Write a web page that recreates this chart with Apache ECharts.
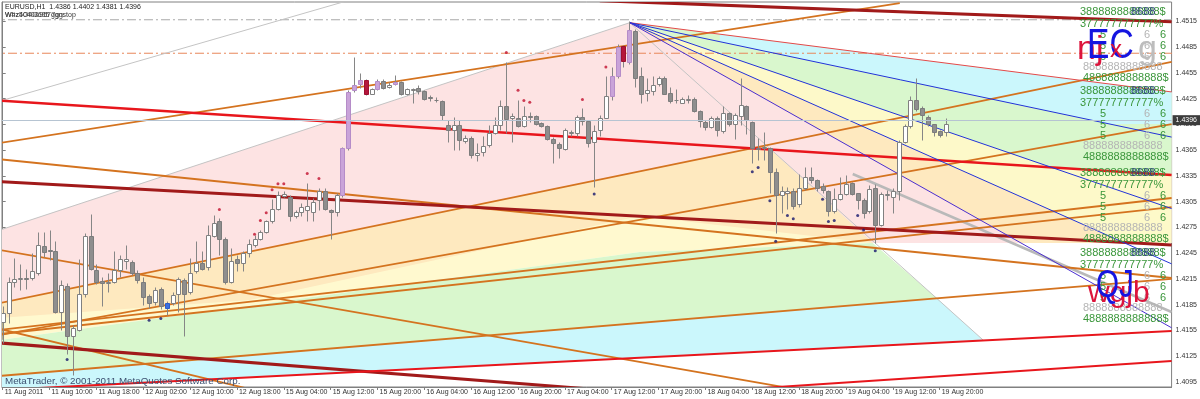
<!DOCTYPE html>
<html><head><meta charset="utf-8">
<script src="https://cdn.jsdelivr.net/npm/echarts@6/dist/echarts.min.js"></script>
<style>html,body{margin:0;padding:0;background:#fff}#c{width:1200px;height:399px}</style>
</head><body><div id="c"></div>
<script>
// ---------- DATA ----------
const timeLabels = ["11 Aug 2011","11 Aug 10:00","11 Aug 18:00","12 Aug 02:00","12 Aug 10:00","12 Aug 18:00",
  "15 Aug 04:00","15 Aug 12:00","15 Aug 20:00","16 Aug 04:00","16 Aug 12:00","16 Aug 20:00",
  "17 Aug 04:00","17 Aug 12:00","17 Aug 20:00","18 Aug 04:00","18 Aug 12:00","18 Aug 20:00",
  "19 Aug 04:00","19 Aug 12:00","19 Aug 20:00"];
const barsPerLabel = 8;
const priceTicks = [1.4095,1.4125,1.4155,1.4185,1.4215,1.4245,1.4275,1.4305,1.4335,1.4365,1.4395,1.4425,1.4455,1.4485,1.4515];

const opens = [
1.4165,1.4175,1.4212,1.4215,1.4216,1.4216,1.4222,1.4253,1.4249,1.4248,
1.4176,1.4207,1.4148,1.4156,1.4198,1.4265,1.4226,1.4213,1.4210,1.4212,
1.4226,1.4236,1.4235,1.4222,1.4212,1.4195,1.4188,1.4203,1.4187,1.4187,
1.4198,1.4214,1.4200,1.4224,1.4234,1.4229,1.4265,1.4282,1.4262,1.4212,
1.4238,1.4234,1.4245,1.4255,1.4262,1.4270,1.4282,1.4297,1.4312,1.4311,
1.4288,1.4293,1.4295,1.4293,1.4307,1.4318,1.4295,1.4293,1.4313,1.4367,
1.4435,1.4442,1.4447,1.4431,1.4436,1.4446,1.4439,1.4442,1.4445,1.4431,
1.4435,1.4438,1.4434,1.4427,1.4424,1.4422,1.4394,1.4388,1.4394,1.4376,
1.4379,1.4359,1.4363,1.4371,1.4385,1.4394,1.4416,1.4402,1.4403,1.4393,
1.4405,1.4405,1.4397,1.4393,1.4378,1.4372,1.4366,1.4385,1.4385,1.4404,
1.4399,1.4375,1.4388,1.4403,1.4428,1.4451,1.4486,1.4468,1.4504,1.4451,
1.4432,1.4434,1.4442,1.4449,1.4432,1.4423,1.4420,1.4424,1.4425,1.4411,
1.4398,1.4392,1.4403,1.4387,1.4408,1.4396,1.4405,1.4417,1.4398,1.4368,
1.4368,1.4367,1.4340,1.4313,1.4315,1.4318,1.4302,1.4321,1.4334,1.4330,
1.4323,1.4318,1.4294,1.4308,1.4314,1.4327,1.4315,1.4307,1.4294,1.4321,
1.4278,1.4313,1.4311,1.4317,1.4374,1.4393,1.4424,1.4414,1.4404,1.4396,
1.4387,1.4386];
const highs = [
1.4183,1.4217,1.4239,1.4233,1.4227,1.4245,1.4270,1.4270,1.4272,1.4259,
1.4214,1.4210,1.4161,1.4238,1.4268,1.4291,1.4232,1.4217,1.4222,1.4247,
1.4243,1.4255,1.4237,1.4226,1.4217,1.4198,1.4206,1.4206,1.4189,1.4200,
1.4217,1.4216,1.4239,1.4259,1.4247,1.4278,1.4290,1.4286,1.4264,1.4251,
1.4243,1.4247,1.4262,1.4266,1.4272,1.4284,1.4308,1.4317,1.4317,1.4313,
1.4295,1.4303,1.4327,1.4309,1.4321,1.4321,1.4297,1.4315,1.4369,1.4435,
1.4474,1.4455,1.4448,1.4437,1.4448,1.4448,1.4445,1.4453,1.4446,1.4437,
1.4437,1.4441,1.4435,1.4429,1.4427,1.4423,1.4400,1.4404,1.4400,1.4383,
1.4381,1.4373,1.4381,1.4394,1.4404,1.4424,1.4468,1.4408,1.4424,1.4416,
1.4410,1.4406,1.4398,1.4394,1.4380,1.4375,1.4391,1.4389,1.4406,1.4414,
1.4400,1.4394,1.4406,1.4451,1.4462,1.4489,1.4488,1.4516,1.4506,1.4462,
1.4449,1.4451,1.4451,1.4451,1.4439,1.4436,1.4427,1.4429,1.4427,1.4412,
1.4400,1.4405,1.4405,1.4416,1.4410,1.4408,1.4449,1.4418,1.4399,1.4379,
1.4386,1.4369,1.4344,1.4323,1.4322,1.4321,1.4337,1.4345,1.4345,1.4331,
1.4327,1.4319,1.4321,1.4334,1.4336,1.4328,1.4315,1.4309,1.4325,1.4326,
1.4316,1.4319,1.4321,1.4377,1.4395,1.4428,1.4449,1.4416,1.4406,1.4396,
1.4389,1.4402];
const lows = [
1.4140,1.4164,1.4206,1.4202,1.4203,1.4214,1.4220,1.4241,1.4237,1.4175,
1.4156,1.4128,1.4103,1.4154,1.4194,1.4226,1.4209,1.4183,1.4200,1.4210,
1.4217,1.4227,1.4220,1.4210,1.4185,1.4181,1.4185,1.4180,1.4173,1.4185,
1.4177,1.4148,1.4198,1.4222,1.4226,1.4226,1.4264,1.4243,1.4209,1.4210,
1.4224,1.4224,1.4240,1.4252,1.4260,1.4268,1.4280,1.4295,1.4311,1.4282,
1.4286,1.4288,1.4282,1.4282,1.4295,1.4295,1.4262,1.4288,1.4311,1.4365,
1.4433,1.4437,1.4429,1.4430,1.4435,1.4436,1.4437,1.4441,1.4429,1.4429,
1.4420,1.4431,1.4424,1.4422,1.4421,1.4400,1.4375,1.4365,1.4365,1.4373,
1.4356,1.4352,1.4358,1.4369,1.4384,1.4389,1.4385,1.4375,1.4392,1.4392,
1.4398,1.4394,1.4392,1.4377,1.4350,1.4356,1.4365,1.4381,1.4382,1.4394,
1.4369,1.4322,1.4381,1.4402,1.4423,1.4449,1.4462,1.4466,1.4439,1.4420,
1.4422,1.4429,1.4440,1.4430,1.4420,1.4420,1.4420,1.4420,1.4410,1.4392,
1.4389,1.4391,1.4381,1.4385,1.4393,1.4378,1.4394,1.4384,1.4350,1.4354,
1.4354,1.4315,1.4269,1.4292,1.4297,1.4296,1.4299,1.4319,1.4327,1.4318,
1.4315,1.4288,1.4292,1.4307,1.4313,1.4313,1.4297,1.4286,1.4292,1.4257,
1.4277,1.4307,1.4292,1.4307,1.4373,1.4391,1.4411,1.4377,1.4393,1.4381,
1.4380,1.4381];
const closes = [
1.4175,1.4212,1.4215,1.4216,1.4215,1.4224,1.4255,1.4246,1.4247,1.4176,
1.4208,1.4148,1.4158,1.4198,1.4265,1.4227,1.4212,1.4210,1.4212,1.4226,
1.4238,1.4238,1.4222,1.4214,1.4194,1.4187,1.4202,1.4183,1.4181,1.4196,
1.4215,1.4198,1.4222,1.4234,1.4227,1.4266,1.4280,1.4261,1.4211,1.4236,
1.4234,1.4245,1.4256,1.4262,1.4270,1.4282,1.4297,1.4313,1.4314,1.4288,
1.4293,1.4299,1.4300,1.4305,1.4318,1.4297,1.4293,1.4313,1.4367,1.4433,
1.4441,1.4447,1.4430,1.4436,1.4446,1.4437,1.4441,1.4445,1.4431,1.4436,
1.4436,1.4434,1.4425,1.4426,1.4423,1.4406,1.4388,1.4394,1.4377,1.4379,
1.4359,1.4362,1.4370,1.4385,1.4394,1.4416,1.4401,1.4405,1.4393,1.4405,
1.4404,1.4396,1.4393,1.4378,1.4373,1.4367,1.4389,1.4386,1.4404,1.4399,
1.4373,1.4387,1.4402,1.4428,1.4451,1.4485,1.4469,1.4505,1.4449,1.4431,
1.4435,1.4441,1.4449,1.4431,1.4422,1.4424,1.4425,1.4425,1.4411,1.4399,
1.4392,1.4403,1.4388,1.4408,1.4396,1.4406,1.4418,1.4400,1.4368,1.4366,
1.4369,1.4340,1.4313,1.4317,1.4317,1.4300,1.4321,1.4334,1.4330,1.4321,
1.4319,1.4294,1.4308,1.4314,1.4326,1.4314,1.4307,1.4292,1.4320,1.4278,
1.4314,1.4314,1.4317,1.4374,1.4393,1.4424,1.4413,1.4406,1.4396,1.4386,
1.4383,1.4396];
const purpleBars = [58,59,60,61,64,67,104,105,107];
const redBars = [62,106];
const blueBars = [28];

const upperDots = [[37,1.4296],[43,1.4267],[44,1.4283],[45,1.4292],[46,1.4319],[47,1.4326],[48,1.4326],
  [52,1.4338],[54,1.4332],[86,1.4479],[88,1.4435],[89,1.4423],[90,1.4421],[99,1.4424],[103,1.4462]];
const lowerDots = [[11,1.4121],[25,1.4167],[27,1.4169],[101,1.4314],[128,1.4340],[129,1.4345],[131,1.4306],
  [132,1.4259],[134,1.4289],[135,1.4285],[140,1.4308],[141,1.4282],[142,1.4283],[146,1.4289],[147,1.4272],[149,1.4248]];

const currentPrice = 1.4396;
const grayLevel = 1.4517;
const orangeLevel = 1.4478;

// trend / channel lines: [[barIndex, price], [barIndex, price]]
const orangeLines = [
  [[-0.46,1.43734],[153.18,1.45365]],
  [[-0.46,1.43544],[199.6,1.42161]],
  [[-0.46,1.41870],[199.6,1.44678]],
  [[-0.46,1.41497],[199.6,1.43955]],
  [[-0.46,1.41556],[199.6,1.43093]],
  [[-0.46,1.41509],[199.6,1.42988]],
  [[-0.46,1.41020],[199.6,1.42150]],
  [[-0.46,1.41567],[45.63,1.40810]],
  [[-0.46,1.42488],[140.03,1.40810]]
];
const maroonLines = [
  [[-0.46,1.43283],[199.6,1.42546]],
  [[-0.46,1.41404],[108.8,1.40822]],
  [[101.96,1.45393],[199.6,1.45147]]
];
const redLines = [
  [[-0.46,1.44227],[199.6,1.43361]],
  [[-0.46,1.40857],[199.6,1.41544]],
  [[101.96,1.40754],[199.6,1.41194]]
];
const fanApex = [107.08,1.45136];
const fanRedEnd = [199.6,1.44329];
const fanBlueEnds = [[199.6,1.43803],[199.6,1.42970],[199.6,1.42326],[199.6,1.41581]];
const grayThinLines = [
  [[-0.46,1.44223],[59.29,1.45400]],
  [[-0.46,1.42720],[107.08,1.45136]],
  [[107.08,1.45136],[167.5,1.41433]]
];
const grayThickLine = [[145.15,1.43373],[199.6,1.41765]];

// filled zones
const pinkZone = [[-0.46,1.42720],[107.08,1.45136],[199.6,1.44329],[199.6,1.42569],[148.57,1.42569],[108.8,1.42884],[42.21,1.41905],[-0.46,1.41695]];
const yellowBand = [[-0.46,1.41870],[130.37,1.43706],[148.57,1.42569],[108.8,1.42464],[-0.46,1.41439]];
const greenBand = [[-0.46,1.41439],[108.8,1.42464],[148.57,1.42569],[159.5,1.41928],[-0.46,1.41020]];
const cyanBand = [[-0.46,1.41020],[159.5,1.41928],[167.5,1.41433],[-0.46,1.40857]];
const fanGreen = [[107.08,1.45136],[199.6,1.44329],[199.6,1.43361],[179.13,1.43449]];
const fanCyan = [[122.45,1.45002],[199.6,1.44329],[199.6,1.43955],[189.03,1.43955],[122.45,1.44914]];
const fanYellow = [[107.08,1.45136],[179.13,1.43449],[199.6,1.43361],[199.6,1.42569],[191.58,1.42569]];
const fanPeach = [[107.08,1.45136],[191.58,1.42569],[173.84,1.42569]];

// texts
const headerText = "EURUSD,H1  1.4386 1.4402 1.4381 1.4396";
const headerText2a = "Whz4040&957ggnstop";
const headerText2b = "W#z5O4O695 7gg";
const copyrightText = "MetaTrader, \u00a9 2001-2011 MetaQuotes Software Corp.";
const levelRowTexts = ["3888888888888$","377777777777%","8888888888888","4888888888888$"];

// ---------- BUILD ----------
const FONT = '"Liberation Sans", Arial, sans-serif';
const candleData = opens.map((o,i)=>{
  let t = closes[i] >= o ? 0 : 1;
  if (purpleBars.includes(i)) t = 2;
  if (redBars.includes(i)) t = 3;
  if (blueBars.includes(i)) t = 4;
  return [i, o, highs[i], lows[i], closes[i], t];
});
const candleStyle = [
  {fill:'#ffffff', stroke:'#808080'},
  {fill:'#8e8e8e', stroke:'#7c7c7c'},
  {fill:'#c9a3d9', stroke:'#b58cc8'},
  {fill:'#b5163c', stroke:'#9c1030'},
  {fill:'#3b6fe0', stroke:'#2d5cc8'}
];

const zones = [
  {pts:pinkZone, fill:'#fde3e3'},
  {pts:yellowBand, fill:'rgba(255,240,140,0.42)'},
  {pts:greenBand, fill:'#d9f7cd'},
  {pts:cyanBand, fill:'#cbf7fc'},
  {pts:fanGreen, fill:'#d9f7cd'},
  {pts:fanCyan, fill:'#cbf7fc'},
  {pts:fanYellow, fill:'#fdf9c9'},
  {pts:fanPeach, fill:'rgba(255,240,140,0.42)'}
];

const lineItems = [];
lineItems.push({pts:[[-2,grayLevel],[205,grayLevel]], c:'#a9a9a9', w:1, d:[9,3,2,3]});
lineItems.push({pts:[[-2,orangeLevel],[205,orangeLevel]], c:'#e8875a', w:1, d:[9,3,2,3]});
grayThinLines.forEach(p=>lineItems.push({pts:p, c:'#c4c4c4', w:1}));
lineItems.push({pts:grayThickLine, c:'#b9b9b9', w:2.5});
orangeLines.forEach(p=>lineItems.push({pts:p, c:'#d4731f', w:1.8}));
maroonLines.forEach(p=>lineItems.push({pts:p, c:'#a11a1a', w:3}));
redLines.forEach((p,k)=>lineItems.push({pts:p, c:'#e8161c', w:k===0?2.5:2}));
lineItems.push({pts:[fanApex,fanRedEnd], c:'#e44a4a', w:1});
fanBlueEnds.forEach((e,k)=>lineItems.push({pts:[fanApex,e], c:k===3?'#4a2ed0':'#2233d8', w:1}));

// graphic texts
const G = [];
const txt = (x,y,text,size,fill,extra)=>Object.assign({type:'text', x, y, z:100,
  style:{text, fill, font: size+'px '+FONT, verticalAlign:'middle'}}, extra||{});
G.push(txt(5,7,headerText,7,'#222'));
G.push(txt(5,15.5,headerText2a,7,'#333'));
G.push(txt(5,15.5,headerText2b,7,'#444'));
G.push(txt(5,381,copyrightText,9.8,'#3d5070'));
const groupTops = [12,91,173,253];
groupTops.forEach(y0=>{
  G.push(txt(1080,y0,levelRowTexts[0],11,'#3a963a'));
  G.push(txt(1131,y0,'8688',11,'#2c447c'));
  G.push(txt(1080,y0+12,levelRowTexts[1],11,'#3a963a'));
  [23,34,45].forEach(dy=>{
    G.push(txt(1100,y0+dy,'5',11,'#3a963a'));
    G.push(txt(1144,y0+dy,'6',11,'#b4b4b4'));
    G.push(txt(1160,y0+dy,'6',11,'#3a963a'));
  });
  G.push(txt(1083,y0+55,levelRowTexts[2],11,'#b4b4b4'));
  G.push(txt(1083,y0+66,levelRowTexts[3],11,'#3a963a'));
});
G.push(txt(1077,50,'nj',34,'#dc143c'));
G.push(txt(1138,50,'g',34,'#bdbdbd'));
G.push(txt(1087,46,'EC',42,'#1515e0',{scaleX:0.8}));
G.push(txt(1110,50,'x',24,'#dc143c'));
G.push(txt(1088,294,'wgjb',30,'#dc143c'));
G.push(txt(1096,287,'QJ',38,'#1515e0',{scaleX:0.78}));

const chart = echarts.init(document.getElementById('c'), null, {renderer:'canvas'});
chart.setOption({
  animation:false,
  backgroundColor:'#ffffff',
  grid:{left:2, right:28, top:2, bottom:12, show:true, borderColor:'#808080', borderWidth:1, backgroundColor:'#ffffff'},
  xAxis:{type:'value', min:-0.12, max:199.6, splitLine:{show:false},
    axisLine:{show:true, onZero:false, lineStyle:{color:'#808080'}},
    axisTick:{show:true, length:3, customValues: timeLabels.map((_,k)=>k*barsPerLabel), lineStyle:{color:'#808080'}},
    axisLabel:{customValues: timeLabels.map((_,k)=>k*barsPerLabel), formatter:v=>timeLabels[Math.round(v/barsPerLabel)],
      fontSize:7, fontFamily:FONT, color:'#333', align:'left', margin:2, padding:[0,0,0,2]}},
  yAxis:{type:'value', position:'right', min:1.40891, max:1.45377, splitLine:{show:false}, scale:true,
    axisLine:{show:true, lineStyle:{color:'#808080'}},
    axisTick:{show:true, length:3, customValues: priceTicks, lineStyle:{color:'#808080'}},
    axisLabel:{customValues: priceTicks, formatter:v=>v.toFixed(4), fontSize:7, fontFamily:FONT, color:'#333', margin:4}},
  graphic: G,
  series:[
    {type:'custom', z:1, clip:true, silent:true,
     data: zones.map((z,k)=>[k,1.43]),
     renderItem:(params,api)=>{
       const zn = zones[params.dataIndex];
       return {type:'polygon', shape:{points: zn.pts.map(p=>api.coord(p))}, style:{fill:zn.fill, stroke:null}};
     }},
    {type:'custom', z:2, clip:true, silent:true,
     data: lineItems.map((l,k)=>[k,1.43]),
     renderItem:(params,api)=>{
       const l = lineItems[params.dataIndex];
       return {type:'polyline', shape:{points: l.pts.map(p=>api.coord(p))},
         style:{stroke:l.c, lineWidth:l.w, lineDash:l.d||null, fill:null}};
     }},
    {type:'custom', z:3, clip:true, silent:true,
     data: candleData,
     encode:{x:0, y:[1,2,3,4]},
     renderItem:(params,api)=>{
       const i=api.value(0), o=api.value(1), h=api.value(2), l=api.value(3), c=api.value(4), t=api.value(5);
       const po=api.coord([i,o]), pc=api.coord([i,c]), ph=api.coord([i,h]), pl=api.coord([i,l]);
       const cx=Math.round(po[0])+0.5;
       const top=Math.round(Math.min(po[1],pc[1]))+0.5;
       let bot=Math.round(Math.max(po[1],pc[1]))+0.5;
       const st=candleStyle[t];
       const children=[{type:'line', shape:{x1:cx,y1:Math.round(ph[1])+0.5,x2:cx,y2:Math.round(pl[1])+0.5},
         style:{stroke:'#868686', lineWidth:1}}];
       if (bot-top < 1) {
         children.push({type:'line', shape:{x1:cx-2,y1:top,x2:cx+2,y2:top}, style:{stroke:st.stroke, lineWidth:1}});
       } else {
         children.push({type:'rect', shape:{x:cx-2,y:top,width:4,height:bot-top}, style:{fill:st.fill, stroke:st.stroke, lineWidth:1}});
       }
       return {type:'group', children};
     }},
    {type:'scatter', z:4, silent:true, data:upperDots, symbolSize:3, itemStyle:{color:'#c2102e'}, clip:true,
     markLine:{silent:true, symbol:'none', animation:false, data:[{yAxis:currentPrice}],
       lineStyle:{color:'#b6c4d2', width:1, type:'solid'},
       label:{show:true, position:'end', distance:1, formatter:()=>currentPrice.toFixed(4), fontSize:7, fontFamily:FONT,
         color:'#ffffff', backgroundColor:'#3c3c3c', padding:[2,3,1,3]}}},
    {type:'scatter', z:4, silent:true, data:lowerDots, symbolSize:3, itemStyle:{color:'#16166e'}, clip:true}
  ]
});
</script>
</body></html>
